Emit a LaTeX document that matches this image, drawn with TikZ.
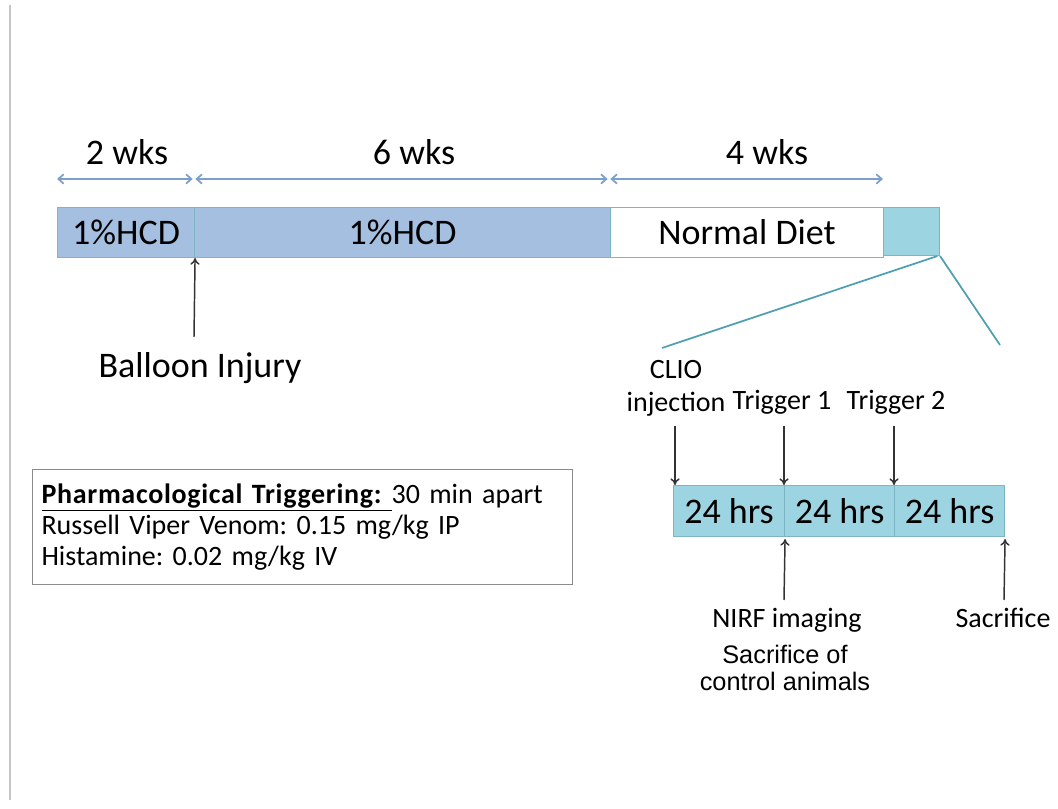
\documentclass[tikz,border=0pt]{standalone}
\usepackage{fontspec}
\setmainfont{Carlito}
\newfontfamily\arialf{Liberation Sans}
\usetikzlibrary{arrows.meta}
\definecolor{hcd}{HTML}{A4BFDF}
\definecolor{tealf}{HTML}{9DD4E1}
\definecolor{barline}{HTML}{7DB5C6}
\definecolor{arr}{HTML}{7C9FCB}
\definecolor{zoomline}{HTML}{4E9FB1}
\definecolor{frame}{HTML}{8A8A8A}
\begin{document}
\frenchspacing
\begin{tikzpicture}[x=0.75pt,y=-0.75pt,
  seg/.style={draw=barline, line width=0.8pt, inner sep=0pt, anchor=north west,
    minimum height=50*0.75pt, font=\fontsize{27}{32}\selectfont},
  hrs/.style={draw=barline, line width=0.8pt, fill=tealf, inner sep=0pt, anchor=north west,
    minimum height=51*0.75pt, minimum width=110*0.75pt, font=\fontsize{27}{32}\selectfont},
  dimarrow/.style={draw=arr, line width=1.3pt, {Straight Barb[length=4pt,width=7pt]}-{Straight Barb[length=4pt,width=7pt]}},
  blk/.style={draw=black!80, line width=1.1pt, -{To[length=5pt,width=7pt]}},
  biglabel/.style={inner sep=0pt, anchor=base, font=\fontsize{27}{32}\selectfont},
  smalllabel/.style={inner sep=0pt, anchor=base, font=\fontsize{21}{25}\selectfont},
  zoomln/.style={draw=zoomline, line width=1.3pt}
]
\useasboundingbox (0,0) rectangle (1058,809);
\draw[gray!45, line width=0.8pt] (10,5) -- (10,800);

% dimension arrows
\coordinate (d0) at (57,179);
\coordinate (d1) at (194,179);
\coordinate (d2) at (609,179);
\coordinate (d3) at (883,179);
\draw[dimarrow] (d0) -- ([xshift=-1pt]d1);
\draw[dimarrow] ([xshift=1pt]d1) -- ([xshift=-1pt]d2);
\draw[dimarrow] ([xshift=1pt]d2) -- (d3);
\node[biglabel] (w2) at (127,165) {2 wks};
\node[biglabel] (w6) at (414,165) {6 wks};
\node[biglabel] (w4) at (767,165) {4 wks};

% main bar
\node[seg, fill=hcd, minimum width=137*0.75pt] (s1) at (57,207) {1\%HCD};
\node[seg, fill=hcd, minimum width=416*0.75pt] (s2) at (194,207) {1\%HCD};
\node[seg, fill=white, minimum width=273*0.75pt] (s3) at (610,207) {Normal Diet};
\node[seg, fill=tealf, minimum width=56*0.75pt, minimum height=48*0.75pt] (sq) at (883,207) {};

% balloon injury
\node[biglabel] (bi) at (200,378) {Balloon Injury};
\coordinate (bia) at (194,337);
\draw[blk] (bia) -- (s1.south east);

% zoom lines
\coordinate (zl) at (662,348);
\coordinate (zr) at (1000,345);
\draw[zoomln] ([xshift=-2pt]sq.south east) -- (zl);
\draw[zoomln] (sq.south east) -- (zr);

% small timeline
\node[hrs, minimum width=111*0.75pt] (h1) at (673,485) {24 hrs};
\node[hrs] (h2) at (784,485) {24 hrs};
\node[hrs] (h3) at (894,485) {24 hrs};

\node[smalllabel, align=center] (clio) at (676,412) {CLIO\\injection};
\node[smalllabel] (t1) at (782,410) {Trigger 1};
\node[smalllabel] (t2) at (896,410) {Trigger 2};
\coordinate (a1) at (675,426);
\coordinate (a2) at (784,426);
\coordinate (a3) at (894,426);
\draw[blk] (a1) -- ([xshift=1.5pt]h1.north west);
\draw[blk] (a2) -- (h2.north west);
\draw[blk] (a3) -- (h3.north west);

\coordinate (b1) at (784,600);
\coordinate (b2) at (1004,600);
\draw[blk] (b1) -- ([yshift=-1.5pt]h1.south east);
\draw[blk] (b2) -- ([yshift=-1.5pt]h3.south east);
\node[smalllabel] (nirf) at (787,627) {NIRF imaging};
\node[smalllabel] (sac) at (1003,627) {Sacrifice};
\node[inner sep=0pt, anchor=base, align=center, font=\arialf\fontsize{19}{20.25}\selectfont] (ctrl) at (785,690) {Sacrifice of\\control animals};

% info box
\node[draw=frame, line width=0.8pt, anchor=north west, inner xsep=9*0.75pt, inner ysep=0pt,
  minimum width=540*0.75pt, minimum height=115*0.75pt, text width=522*0.75pt, align=left,
  font=\fontsize{21}{23.25}\selectfont] (info) at (32,469)
  {\underline{\textbf{\addfontfeature{LetterSpace=2.5}Pharmacological Triggering: }}30 min apart\\
   Russell Viper Venom: 0.15 mg/kg IP\\
   Histamine: 0.02 mg/kg IV};
\end{tikzpicture}
\end{document}
